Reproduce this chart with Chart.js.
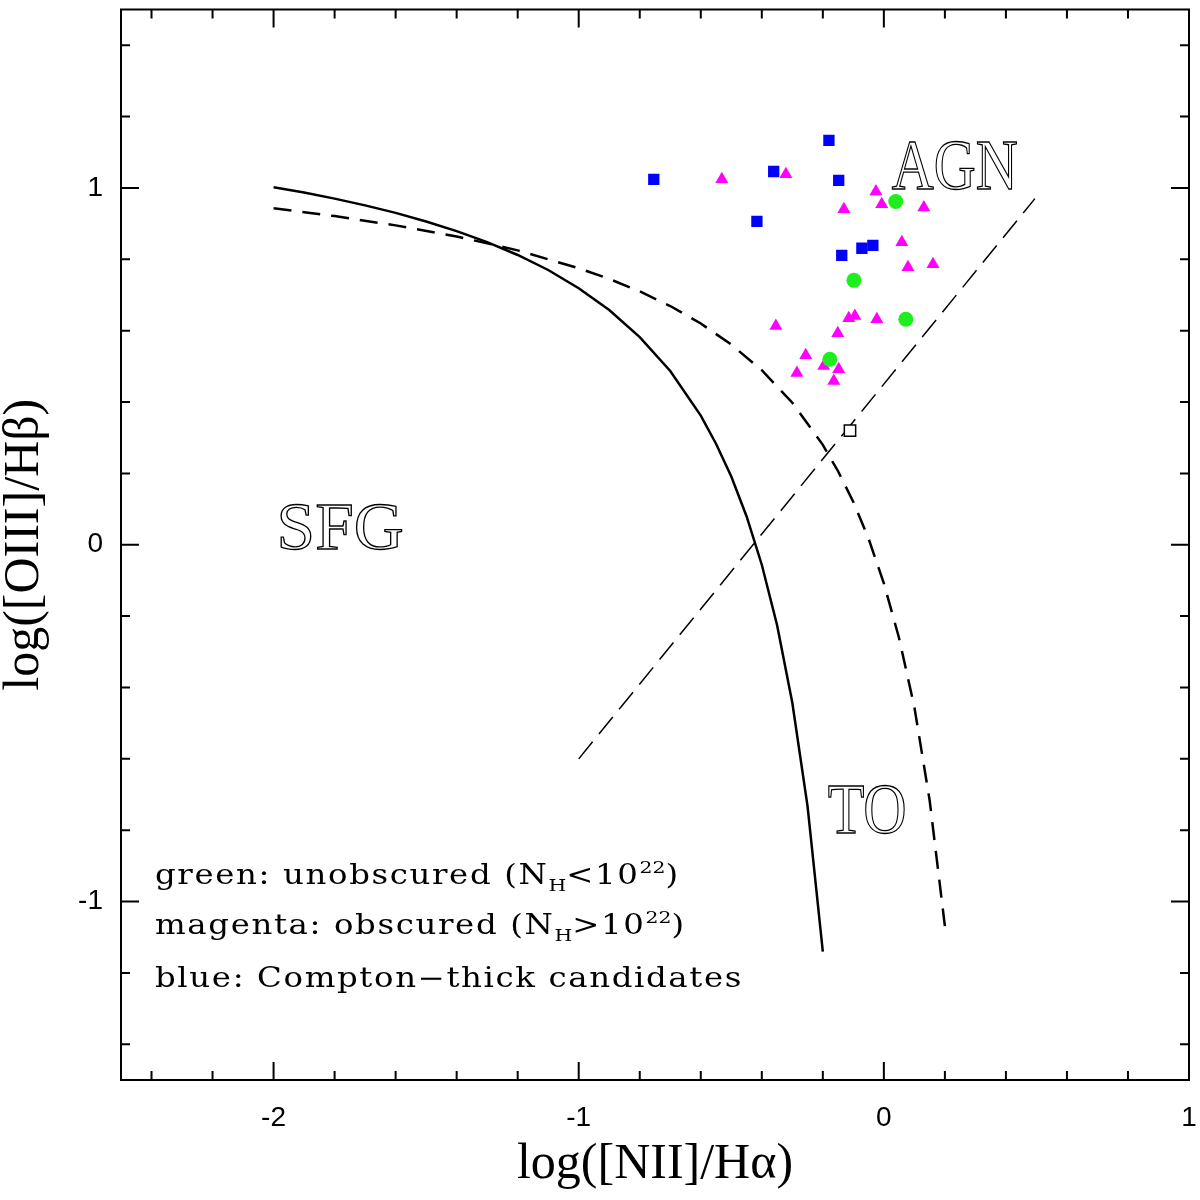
<!DOCTYPE html>
<html>
<head>
<meta charset="utf-8">
<script src="https://cdn.jsdelivr.net/npm/chart.js@4"></script>
<style>
  html, body { margin: 0; padding: 0; background: #fff; }
  #wrap { width: 1200px; height: 1200px; }
</style>
</head>
<body>
<div id="wrap"><canvas id="bpt"></canvas></div>
<script>
// demarcation curves
const kauffX = [-2.0, -1.9, -1.8, -1.7, -1.6, -1.5, -1.4, -1.3, -1.2, -1.1, -1.0, -0.9, -0.8, -0.7, -0.6, -0.55, -0.5, -0.45, -0.4, -0.35, -0.3, -0.25, -0.2];
const kauffY = [1.002, 0.987, 0.970, 0.951, 0.930, 0.906, 0.879, 0.848, 0.812, 0.770, 0.719, 0.658, 0.582, 0.487, 0.362, 0.283, 0.191, 0.080, -0.056, -0.225, -0.443, -0.733, -1.140];

const kewleyX = [-2.0, -1.8, -1.6, -1.4, -1.2, -1.0, -0.9, -0.8, -0.7, -0.6, -0.5, -0.4, -0.3, -0.2, -0.15, -0.1, -0.05, 0.0, 0.05, 0.1, 0.15, 0.2];
const kewleyY = [0.943, 0.921, 0.895, 0.864, 0.825, 0.775, 0.745, 0.710, 0.669, 0.620, 0.561, 0.489, 0.398, 0.280, 0.206, 0.120, 0.017, -0.108, -0.262, -0.455, -0.716, -1.069];

const diagX = [-1.0, 0.495];
const diagY = [-0.60, 0.97];

// sources
const greenX = [0.039, -0.098, 0.072, -0.177];
const greenY = [0.962, 0.741, 0.632, 0.520];

const magentaX = [-0.531, -0.321, -0.026, -0.007, -0.131, 0.131, 0.059, 0.079, 0.161, -0.354, -0.115, -0.095, -0.023, -0.151, -0.256, -0.285, -0.197, -0.148, -0.164];
const magentaY = [1.024, 1.038, 0.990, 0.954, 0.940, 0.945, 0.848, 0.778, 0.786, 0.613, 0.635, 0.641, 0.632, 0.593, 0.531, 0.481, 0.501, 0.492, 0.459];

const blueX = [-0.754, -0.180, -0.361, -0.148, -0.416, -0.138, -0.072, -0.036];
const blueY = [1.024, 1.133, 1.046, 1.021, 0.906, 0.811, 0.831, 0.839];

const stackX = [-0.111];
const stackY = [0.320];

// axes
const xMajorTicks = [-2, -1, 0, 1];
const yMajorTicks = [-1, 0, 1];
const xMinorTicks = [-2.4, -2.2, -1.8, -1.6, -1.4, -1.2, -0.8, -0.6, -0.4, -0.2, 0.2, 0.4, 0.6, 0.8];
const yMinorTicks = [-1.4, -1.2, -0.8, -0.6, -0.4, -0.2, 0.2, 0.4, 0.6, 0.8, 1.2, 1.4];

const regionLabels = ['AGN', 'SFG', 'TO'];

const pts = (xs, ys) => xs.map((v, i) => ({ x: v, y: ys[i] }));

// where the region names sit (data coords of the baseline start) and how big
const regionPlace = [
  { x: 0.026, y: 0.996, size: 71, width: 126 },
  { x: -1.99, y: -0.011, size: 67, width: 127 },
  { x: -0.184, y: -0.808, size: 71, width: 79 }
];

const legendLines = [
  [['green: unobscured (N', 0], ['H', -1], ['<10', 0], ['22', 1], [')', 0]],
  [['magenta: obscured (N', 0], ['H', -1], ['>10', 0], ['22', 1], [')', 0]],
  [['blue: Compton\u2212thick candidates', 0]]
];

const frameTicks = {
  id: 'frameTicks',
  afterDraw(chart) {
    const { ctx, chartArea: a, scales: { x, y } } = chart;
    ctx.save();
    ctx.strokeStyle = '#000';
    ctx.lineWidth = 2;
    ctx.strokeRect(a.left, a.top, a.right - a.left, a.bottom - a.top);
    ctx.beginPath();
    const tickX = (v, len) => {
      const p = x.getPixelForValue(v);
      ctx.moveTo(p, a.bottom); ctx.lineTo(p, a.bottom - len);
      ctx.moveTo(p, a.top); ctx.lineTo(p, a.top + len);
    };
    const tickY = (v, len) => {
      const p = y.getPixelForValue(v);
      ctx.moveTo(a.left, p); ctx.lineTo(a.left + len, p);
      ctx.moveTo(a.right, p); ctx.lineTo(a.right - len, p);
    };
    xMajorTicks.forEach(v => tickX(v, 18));
    xMinorTicks.forEach(v => tickX(v, 9));
    yMajorTicks.forEach(v => tickY(v, 18));
    yMinorTicks.forEach(v => tickY(v, 9));
    ctx.stroke();
    ctx.restore();
  }
};

const annotations = {
  id: 'annotations',
  afterDatasetsDraw(chart) {
    const { ctx, chartArea: a, scales: { x, y } } = chart;
    ctx.save();
    // region names, hollow serif letters
    regionLabels.forEach((txt, i) => {
      const p = regionPlace[i];
      ctx.font = p.size + 'px "Liberation Serif"';
      const w = ctx.measureText(txt).width;
      ctx.save();
      ctx.translate(x.getPixelForValue(p.x), y.getPixelForValue(p.y));
      ctx.scale(p.width / w, 1);
      ctx.lineWidth = 1.3;
      ctx.strokeStyle = '#000';
      ctx.strokeText(txt, 0, 0);
      ctx.restore();
    });

    // legend text in the lower left corner (wide glyphs: stretch + a little spacing)
    const baseFont = 27;
    const stretch = 1.2;
    ctx.fillStyle = '#000';
    ctx.font = baseFont + 'px "DejaVu Serif"';
    const longest = legendLines[2][0][0];
    const natural = ctx.measureText(longest).width * stretch;
    const spacing = Math.max(0, (588 - natural) / longest.length / stretch);
    const baselines = [884, 934, 987];
    legendLines.forEach((parts, li) => {
      ctx.save();
      ctx.translate(a.left + 34, baselines[li]);
      ctx.scale(stretch, 1);
      let px = 0;
      parts.forEach(([t, shift]) => {
        const sz = shift === 0 ? baseFont : 17;
        ctx.font = sz + 'px "DejaVu Serif"';
        ctx.letterSpacing = (shift === 0 ? spacing : 0) + 'px';
        const dy = shift === -1 ? 7 : (shift === 1 ? -11 : 0);
        ctx.fillText(t, px, dy);
        px += ctx.measureText(t).width;
      });
      ctx.restore();
    });
    ctx.restore();
  }
};

const tickFont = { family: '"Liberation Sans", Arial, sans-serif', size: 28 };
const titleFont = { family: '"Liberation Serif", serif', size: 50, lineHeight: 1 };

new Chart(document.getElementById('bpt'), {
  type: 'scatter',
  data: {
    datasets: [
      { label: 'unobscured', data: pts(greenX, greenY), pointStyle: 'circle', pointRadius: 7.5, backgroundColor: '#1eee1e', borderWidth: 0 },
      { label: 'Compton-thick', data: pts(blueX, blueY), pointStyle: 'rect', pointRadius: 8, backgroundColor: '#0000ff', borderWidth: 0 },
      { label: 'obscured', data: pts(magentaX, magentaY), pointStyle: 'triangle', pointRadius: 7.5, backgroundColor: '#ff00ff', borderWidth: 0 },
      { label: 'stack', data: pts(stackX, stackY), pointStyle: 'rect', pointRadius: 8, backgroundColor: '#ffffff', borderColor: '#000', borderWidth: 1.5 },
      { label: 'Kauffmann', data: pts(kauffX, kauffY), showLine: true, pointRadius: 0, borderColor: '#000', borderWidth: 2.5, tension: 0 },
      { label: 'Kewley', data: pts(kewleyX, kewleyY), showLine: true, pointRadius: 0, borderColor: '#000', borderWidth: 2.5, borderDash: [18, 11], tension: 0 },
      { label: 'Schawinski', data: pts(diagX, diagY), showLine: true, pointRadius: 0, borderColor: '#000', borderWidth: 1.5, borderDash: [22, 10] }
    ]
  },
  options: {
    responsive: true,
    maintainAspectRatio: false,
    animation: false,
    layout: { padding: { left: 0, top: 5, right: 11, bottom: 0 } },
    plugins: { legend: { display: false }, tooltip: { enabled: false } },
    scales: {
      x: {
        type: 'linear', position: 'bottom', min: -2.5, max: 1,
        grid: { display: false, drawTicks: false },
        border: { display: false },
        afterBuildTicks: s => { s.ticks = xMajorTicks.map(v => ({ value: v })); },
        afterFit: s => { s.height = 120; s.paddingLeft = 0; s.paddingRight = 0; },
        ticks: { font: tickFont, color: '#000', padding: 21, maxRotation: 0, autoSkip: false, callback: v => String(v) },
        title: { display: true, text: 'log([NII]/H\u03b1)', font: titleFont, color: '#000', padding: { top: 0, bottom: 10 } }
      },
      y: {
        type: 'linear', position: 'left', min: -1.5, max: 1.5,
        grid: { display: false, drawTicks: false },
        border: { display: false },
        afterBuildTicks: s => { s.ticks = yMajorTicks.map(v => ({ value: v })); },
        afterFit: s => { s.width = 121; s.paddingTop = 0; s.paddingBottom = 0; },
        ticks: { font: tickFont, color: '#000', padding: 18, autoSkip: false, callback: v => String(v) },
        title: { display: true, text: 'log([OIII]/H\u03b2)', font: titleFont, color: '#000', padding: { top: 0, bottom: 0 } }
      }
    }
  },
  plugins: [annotations, frameTicks]
});
</script>
</body>
</html>
